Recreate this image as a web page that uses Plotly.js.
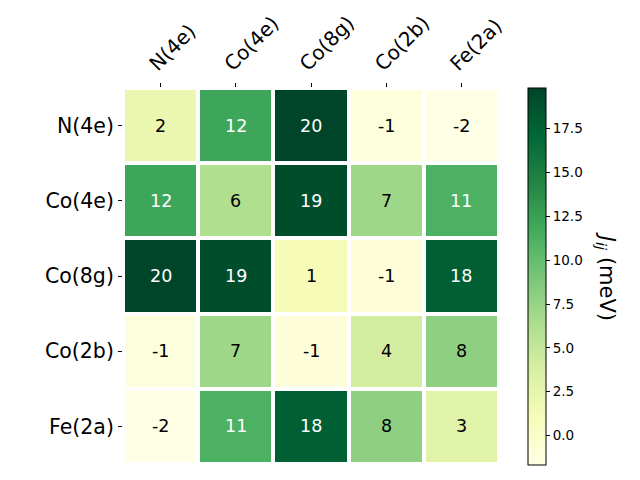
<!DOCTYPE html>
<html>
<head>
<meta charset="utf-8">
<script src="https://cdn.plot.ly/plotly-3.0.1.min.js"></script>
<style>html,body{margin:0;padding:0;background:#fff;}#chart{width:640px;height:480px;}</style>
</head>
<body>
<div id="chart"></div>
<script>
const sites = ["N(4e)", "Co(4e)", "Co(8g)", "Co(2b)", "Fe(2a)"];
const row_N4e  = [2.1, 12.1, 19.85, -1.1, -1.65];
const row_Co4e = [12.1, 6.2, 19.2, 7.1, 11.2];
const row_Co8g = [19.85, 19.2, 1.1, -0.9, 17.8];
const row_Co2b = [-1.1, 7.1, -0.9, 4.1, 8.0];
const row_Fe2a = [-1.65, 11.2, 17.8, 8.0, 3.0];
const labels_N4e  = ["2", "12", "20", "-1", "-2"];
const labels_Co4e = ["12", "6", "19", "7", "11"];
const labels_Co8g = ["20", "19", "1", "-1", "18"];
const labels_Co2b = ["-1", "7", "-1", "4", "8"];
const labels_Fe2a = ["-2", "11", "18", "8", "3"];
const cbTicks = [0, 2.5, 5, 7.5, 10, 12.5, 15, 17.5];

const z = [row_N4e, row_Co4e, row_Co8g, row_Co2b, row_Fe2a];
const labels = [labels_N4e, labels_Co4e, labels_Co8g, labels_Co2b, labels_Fe2a];
const zmin = -1.65, zmax = 19.85;

const ylgn = [
  [0.0, "#ffffe5"], [0.125, "#f7fcb9"], [0.25, "#d9f0a3"], [0.375, "#addd8e"],
  [0.5, "#78c679"], [0.625, "#41ab5d"], [0.75, "#238443"], [0.875, "#006837"], [1.0, "#004529"]
];

const annotations = [];
for (let i = 0; i < sites.length; i++) {
  for (let j = 0; j < sites.length; j++) {
    annotations.push({
      x: sites[j], y: sites[i], xref: "x", yref: "y",
      text: labels[i][j], showarrow: false,
      font: {family: "DejaVu Sans", size: 17.5, color: z[i][j] > (zmax / 2) ? "#ffffff" : "#000000"}
    });
  }
}
annotations.push({
  xref: "paper", yref: "paper", x: 1.285, y: 0.5,
  text: "<i>J</i><sub><i>ij</i></sub> (meV)", showarrow: false, textangle: 90,
  xanchor: "center", yanchor: "middle",
  font: {family: "DejaVu Sans", size: 21, color: "#000"}
});

const trace = {
  type: "heatmap", x: sites, y: sites, z: z,
  zmin: zmin, zmax: zmax, colorscale: ylgn,
  xgap: 4, ygap: 4, hoverinfo: "skip",
  colorbar: {
    xref: "container", x: 528 / 640, xanchor: "left",
    yref: "paper", y: 0.5, yanchor: "middle",
    thickness: 18, thicknessmode: "pixels",
    len: 377, lenmode: "pixels",
    outlinewidth: 1, outlinecolor: "#000",
    tickmode: "array", tickvals: cbTicks, tickformat: ".1f",
    ticks: "outside", ticklen: 4, tickcolor: "#000",
    tickfont: {family: "DejaVu Sans", size: 13.5, color: "#000"},
    xpad: 0, ypad: 0
  }
};

const layout = {
  width: 640, height: 480,
  margin: {l: 123, r: 141, t: 88, b: 16},
  paper_bgcolor: "#fff", plot_bgcolor: "#fff",
  font: {family: "DejaVu Sans", color: "#000"},
  xaxis: {
    side: "top", tickangle: -45, ticks: "outside", ticklen: 4, tickcolor: "#000",
    ticklabelshift: -10,
    tickfont: {family: "DejaVu Sans", size: 20, color: "#000"},
    showgrid: false, zeroline: false, showline: false, fixedrange: true
  },
  yaxis: {
    autorange: "reversed", ticks: "outside", ticklen: 4, tickcolor: "#000",
    tickfont: {family: "DejaVu Sans", size: 20.5, color: "#000"},
    showgrid: false, zeroline: false, showline: false, fixedrange: true
  },
  annotations: annotations,
  showlegend: false
};

Plotly.newPlot("chart", [trace], layout, {displayModeBar: false, staticPlot: true});
</script>
</body>
</html>
